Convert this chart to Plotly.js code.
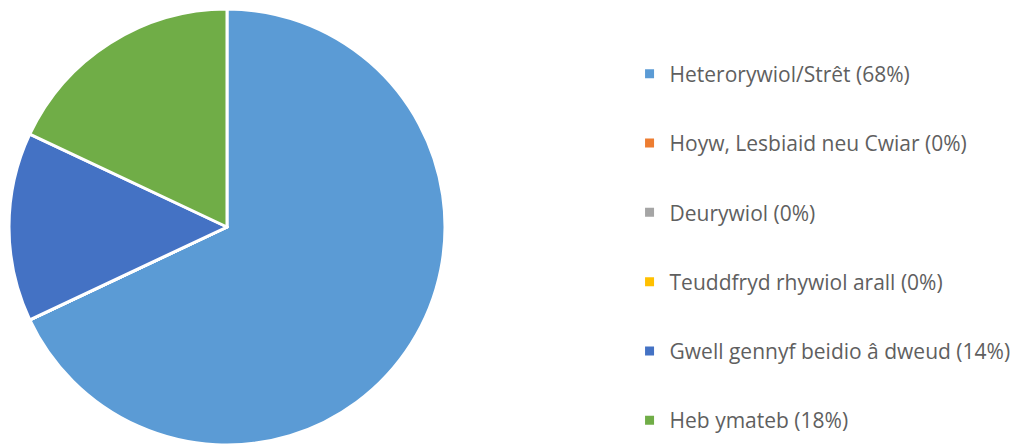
<!DOCTYPE html>
<html>
<head>
<meta charset="utf-8">
<script src="https://cdn.plot.ly/plotly-3.0.1.min.js"></script>
<style>
	html, body { margin: 0; padding: 0; background: #fff; }
	#chart { width: 1022px; height: 446px; }
</style>
</head>
<body>
<div id="chart"></div>
<script>
"use strict";
var labels = ['Heterorywiol/Strêt', 'Hoyw, Lesbiaid neu Cwiar', 'Deurywiol', 'Teuddfryd rhywiol arall', 'Gwell gennyf beidio â dweud', 'Heb ymateb'];
var percents = [68, 0, 0, 0, 14, 18];
var colors = ['#5B9BD5', '#ED7D31', '#A5A5A5', '#FFC000', '#4472C4', '#70AD47'];

var legendNames = [];
for (var i = 0; i < labels.length; i++) {
	legendNames.push(labels[i] + ' (' + percents[i] + '%)');
}

var pie = {
	type: 'pie',
	labels: legendNames,
	values: percents,
	sort: false,
	direction: 'clockwise',
	rotation: 0,
	textinfo: 'none',
	hoverinfo: 'label',
	showlegend: false,
	marker: {
		colors: colors,
		line: { color: '#ffffff', width: 3 }
	},
	domain: { x: [9/1022, 445/1022], y: [1/446, 437/446] }
};

// legend entries as empty marker traces so the gap between them can be set
var traces = [pie];
for (var j = 0; j < labels.length; j++) {
	traces.push({
		type: 'scatter',
		mode: 'markers',
		x: [null],
		y: [null],
		name: legendNames[j],
		legendgroup: 'g' + j,
		marker: { symbol: 'square', size: 9, color: colors[j] },
		hoverinfo: 'skip'
	});
}

var layout = {
	width: 1022,
	height: 446,
	margin: { l: 0, r: 0, t: 0, b: 0 },
	paper_bgcolor: '#ffffff',
	plot_bgcolor: '#ffffff',
	font: { family: 'Open Sans, sans-serif', color: '#595959', size: 21 },
	xaxis: { visible: false },
	yaxis: { visible: false },
	showlegend: true,
	legend: {
		x: 0.616,
		y: 0.446,
		xanchor: 'left',
		yanchor: 'middle',
		tracegroupgap: 39,
		itemclick: false,
		font: { size: 21, color: '#5f5f5f' }
	}
};

Plotly.newPlot(document.getElementById('chart'), traces, layout, { displayModeBar: false, staticPlot: true });
</script>
</body>
</html>
